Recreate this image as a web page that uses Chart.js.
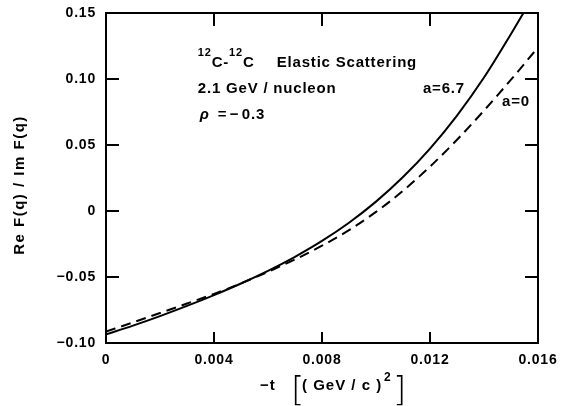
<!DOCTYPE html>
<html>
<head>
<meta charset="utf-8">
<script src="https://cdn.jsdelivr.net/npm/chart.js@4/dist/chart.umd.min.js"></script>
<style>
  html, body { margin: 0; padding: 0; background: #fff; }
  #wrap { width: 563px; height: 406px; }
</style>
</head>
<body>
<div id="wrap"><canvas id="c" width="563" height="406"></canvas></div>
<script>
// ---- data ----
const tA67 = [0, 0.001, 0.002, 0.003, 0.004, 0.005, 0.006, 0.007, 0.008, 0.009, 0.010, 0.011, 0.012, 0.013, 0.014, 0.015, 0.01546];
const ratioA67 = [-0.0935, -0.0868, -0.0796, -0.0719, -0.0637, -0.0549, -0.0453, -0.0347, -0.0227, -0.0089, 0.0071, 0.0257, 0.0473, 0.0723, 0.1011, 0.1341, 0.150];
const tA0 = [0, 0.001, 0.002, 0.003, 0.004, 0.005, 0.006, 0.007, 0.008, 0.009, 0.010, 0.011, 0.012, 0.013, 0.014, 0.015, 0.016];
const ratioA0 = [-0.0914, -0.0844, -0.0773, -0.0701, -0.0628, -0.0548, -0.0461, -0.0367, -0.0263, -0.0145, -0.0007, 0.0153, 0.0336, 0.054, 0.0761, 0.0995, 0.1239];
const xTickValues = [0, 0.004, 0.008, 0.012, 0.016];
const xTickLabels = ['0', '0.004', '0.008', '0.012', '0.016'];
const yTickValues = [-0.10, -0.05, 0, 0.05, 0.10, 0.15];
const yTickLabels = ['\u22120.10', '\u22120.05', '0', '0.05', '0.10', '0.15'];
const seriesLabels = ['a=6.7', 'a=0'];

const FONT = '"Liberation Sans", Arial, sans-serif';

// curve labels anchored in data coordinates
const notes = [
  { text: 'a=6.7', t: 0.01174, r: 0.0894 },
  { text: 'a=0', t: 0.01467, r: 0.0796 }
];

const decor = {
  id: 'decor',
  beforeDraw(chart) {
    chart.ctx.letterSpacing = '0.8px';
  },
  afterDraw(chart) {
    const ctx = chart.ctx;
    const { left, right, top, bottom } = chart.chartArea;
    const xs = chart.scales.x, ys = chart.scales.y;
    ctx.save();
    ctx.strokeStyle = '#000';
    ctx.lineWidth = 2;
    ctx.strokeRect(left, top, right - left, bottom - top);
    ctx.beginPath();
    xTickValues.forEach(v => {
      const p = xs.getPixelForValue(v);
      ctx.moveTo(p, bottom); ctx.lineTo(p, bottom - 11);
      ctx.moveTo(p, top); ctx.lineTo(p, top + 13);
    });
    yTickValues.forEach(v => {
      const p = ys.getPixelForValue(v);
      ctx.moveTo(left, p); ctx.lineTo(left + 13, p);
      ctx.moveTo(right, p); ctx.lineTo(right - 13, p);
    });
    ctx.stroke();

    ctx.fillStyle = '#000';
    ctx.letterSpacing = '0.8px';
    ctx.textBaseline = 'alphabetic';
    ctx.textAlign = 'left';

    // title block
    const tx = xs.getPixelForValue(0.0034);
    const b1 = ys.getPixelForValue(0.1091);
    const b2 = ys.getPixelForValue(0.0894);
    const b3 = ys.getPixelForValue(0.0697);
    let x = tx;
    const seg = (s, font, dy) => {
      ctx.font = font;
      ctx.fillText(s, x, b1 + (dy || 0));
      x += ctx.measureText(s).width;
    };
    const big = 'bold 15px ' + FONT, sup = 'bold 11px ' + FONT;
    seg('12', sup, -11);
    seg('C', big);
    seg('-', big);
    seg('12', sup, -11);
    seg('C', big);
    ctx.font = big;
    ctx.fillText('Elastic Scattering', tx + 79, b1);
    ctx.fillText('2.1 GeV / nucleon', tx, b2);
    ctx.font = 'italic bold 15px ' + FONT;
    ctx.fillText('\u03C1', tx + 2, b3);
    ctx.font = big;
    ctx.fillText('=', tx + 20, b3);
    ctx.fillText('\u2212', tx + 32, b3);
    ctx.fillText('0.3', tx + 44, b3);

    // curve labels
    ctx.font = 'bold 15px ' + FONT;
    notes.forEach(n => {
      ctx.fillText(n.text, xs.getPixelForValue(n.t), ys.getPixelForValue(n.r));
    });

    // x-axis title: -t [ (GeV/c)^2 ]
    ctx.letterSpacing = '1px';
    const xb = 390;
    ctx.font = 'bold 15px ' + FONT;
    ctx.fillText('\u2212t', 260, xb);
    ctx.font = '300 34px "DejaVu Sans", ' + FONT;
    ctx.letterSpacing = '0px';
    ctx.fillText('[', 291, 401);
    ctx.letterSpacing = '1px';
    ctx.font = 'bold 15px ' + FONT;
    ctx.fillText('( GeV / c )', 302, xb);
    ctx.font = 'bold 12px ' + FONT;
    ctx.fillText('2', 384, 381);
    ctx.font = '300 34px "DejaVu Sans", ' + FONT;
    ctx.letterSpacing = '0px';
    ctx.fillText(']', 393, 401);

    // y-axis title
    ctx.letterSpacing = '1.5px';
    ctx.save();
    ctx.translate(24, 185);
    ctx.rotate(-Math.PI / 2);
    ctx.textAlign = 'center';
    ctx.font = 'bold 15px ' + FONT;
    ctx.fillText('Re F(q) / Im F(q)', 0, 0);
    ctx.restore();
    ctx.restore();
  }
};

new Chart(document.getElementById('c'), {
  type: 'line',
  data: {
    datasets: [
      {
        label: seriesLabels[0],
        data: tA67.map((t, i) => ({ x: t, y: ratioA67[i] })),
        borderColor: '#000', borderWidth: 2, pointRadius: 0,
        cubicInterpolationMode: 'monotone', fill: false
      },
      {
        label: seriesLabels[1],
        data: tA0.map((t, i) => ({ x: t, y: ratioA0[i] })),
        borderColor: '#000', borderWidth: 2, borderDash: [10, 6], pointRadius: 0,
        cubicInterpolationMode: 'monotone', fill: false
      }
    ]
  },
  options: {
    responsive: false,
    animation: false,
    devicePixelRatio: 1,
    layout: { padding: { top: 13, right: 25, left: 0, bottom: 0 } },
    plugins: { legend: { display: false }, tooltip: { enabled: false } },
    scales: {
      x: {
        type: 'linear', min: 0, max: 0.016,
        afterBuildTicks: s => { s.ticks = xTickValues.map(v => ({ value: v })); },
        afterFit: s => { s.height = 63; s.paddingLeft = 0; s.paddingRight = 0; },
        grid: { display: false, drawTicks: false },
        border: { display: false },
        ticks: {
          color: '#000', padding: 9, maxRotation: 0, autoSkip: false,
          font: { family: FONT, size: 14, weight: 'bold' },
          callback: (v, i) => xTickLabels[i]
        }
      },
      y: {
        type: 'linear', min: -0.10, max: 0.15,
        afterBuildTicks: s => { s.ticks = yTickValues.map(v => ({ value: v })); },
        afterFit: s => { s.width = 106; s.paddingTop = 0; s.paddingBottom = 0; },
        grid: { display: false, drawTicks: false },
        border: { display: false },
        ticks: {
          color: '#000', padding: 10, autoSkip: false,
          font: { family: FONT, size: 14, weight: 'bold' },
          callback: (v, i) => yTickLabels[i]
        }
      }
    }
  },
  plugins: [decor]
});
</script>
</body>
</html>
